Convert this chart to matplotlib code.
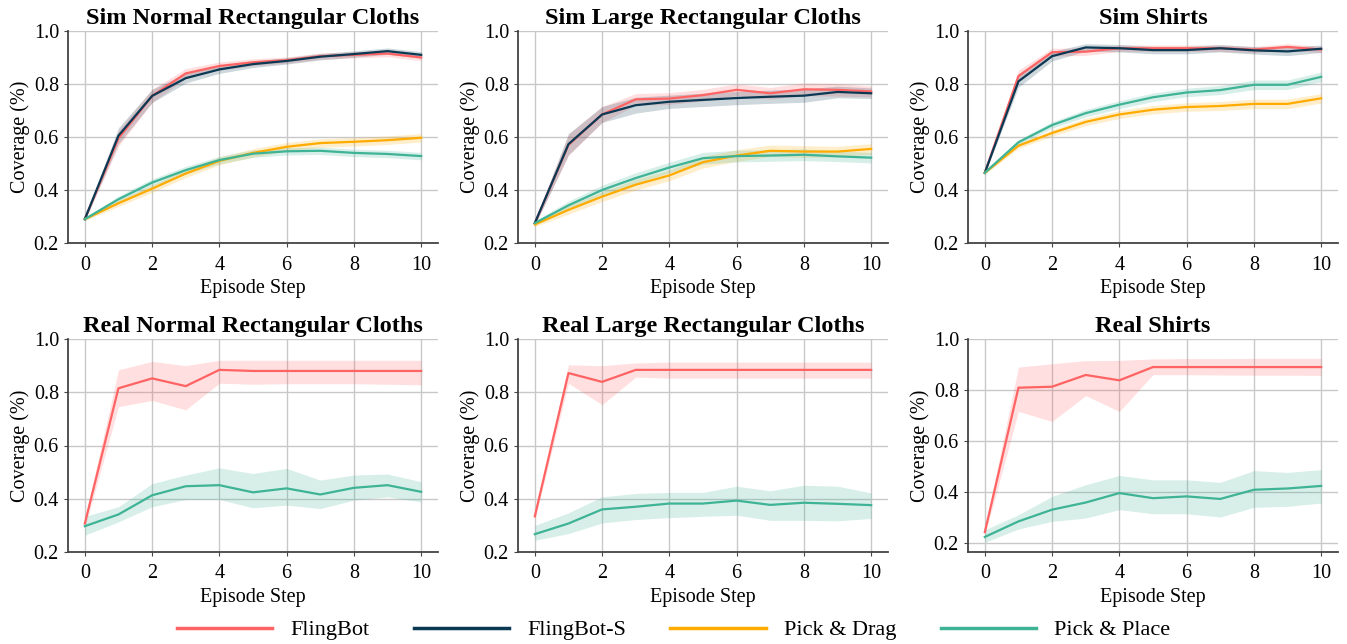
import numpy as np
import matplotlib
matplotlib.use("Agg")
import matplotlib.pyplot as plt
from matplotlib.lines import Line2D

plt.rcParams.update({"font.family": ["Liberation Serif", "DejaVu Serif"],
                     "font.size": 14})

steps = np.arange(11)

methods = ["FlingBot", "FlingBot-S", "Pick & Drag", "Pick & Place"]
colors = {"FlingBot": "#ff6363", "FlingBot-S": "#0b3954",
          "Pick & Drag": "#ffab00", "Pick & Place": "#3eb395"}

# ---- simulation: mean curves and band half-widths -------------------------
sim_normal_mean = {
    "FlingBot":     [0.29, 0.595, 0.755, 0.840, 0.868, 0.882, 0.890, 0.905, 0.910, 0.915, 0.900],
    "FlingBot-S":   [0.29, 0.605, 0.755, 0.822, 0.855, 0.875, 0.887, 0.903, 0.913, 0.924, 0.910],
    "Pick & Drag":  [0.29, 0.350, 0.405, 0.462, 0.510, 0.540, 0.563, 0.577, 0.582, 0.588, 0.597],
    "Pick & Place": [0.29, 0.365, 0.428, 0.475, 0.513, 0.537, 0.546, 0.548, 0.540, 0.536, 0.528],
}
sim_normal_err = {
    "FlingBot":     [0.005, 0.030, 0.025, 0.018, 0.015, 0.013, 0.012, 0.012, 0.012, 0.012, 0.012],
    "FlingBot-S":   [0.005, 0.030, 0.025, 0.018, 0.015, 0.013, 0.012, 0.012, 0.012, 0.012, 0.012],
    "Pick & Drag":  [0.005, 0.012, 0.014, 0.015, 0.015, 0.016, 0.016, 0.016, 0.016, 0.016, 0.016],
    "Pick & Place": [0.005, 0.012, 0.014, 0.014, 0.014, 0.014, 0.014, 0.014, 0.014, 0.014, 0.014],
}

sim_large_mean = {
    "FlingBot":     [0.275, 0.570, 0.685, 0.742, 0.745, 0.758, 0.778, 0.765, 0.780, 0.778, 0.772],
    "FlingBot-S":   [0.275, 0.573, 0.685, 0.720, 0.733, 0.740, 0.747, 0.752, 0.756, 0.770, 0.765],
    "Pick & Drag":  [0.270, 0.325, 0.375, 0.420, 0.455, 0.505, 0.530, 0.548, 0.545, 0.545, 0.555],
    "Pick & Place": [0.275, 0.342, 0.400, 0.445, 0.485, 0.520, 0.528, 0.530, 0.533, 0.527, 0.522],
}
sim_large_err = {
    "FlingBot":     [0.008, 0.040, 0.030, 0.022, 0.022, 0.022, 0.022, 0.022, 0.024, 0.024, 0.020],
    "FlingBot-S":   [0.008, 0.040, 0.030, 0.030, 0.025, 0.025, 0.025, 0.025, 0.025, 0.022, 0.020],
    "Pick & Drag":  [0.008, 0.016, 0.018, 0.020, 0.020, 0.022, 0.022, 0.022, 0.022, 0.020, 0.020],
    "Pick & Place": [0.008, 0.016, 0.018, 0.020, 0.020, 0.022, 0.022, 0.022, 0.022, 0.020, 0.020],
}

sim_shirts_mean = {
    "FlingBot":     [0.465, 0.830, 0.920, 0.922, 0.935, 0.935, 0.935, 0.935, 0.930, 0.940, 0.930],
    "FlingBot-S":   [0.465, 0.810, 0.905, 0.938, 0.935, 0.928, 0.928, 0.935, 0.927, 0.923, 0.933],
    "Pick & Drag":  [0.465, 0.567, 0.615, 0.657, 0.685, 0.703, 0.713, 0.717, 0.725, 0.725, 0.746],
    "Pick & Place": [0.465, 0.580, 0.645, 0.690, 0.722, 0.750, 0.768, 0.777, 0.797, 0.797, 0.827],
}
sim_shirts_err = {
    "FlingBot":     [0.005, 0.022, 0.015, 0.014, 0.012, 0.012, 0.012, 0.012, 0.012, 0.012, 0.012],
    "FlingBot-S":   [0.005, 0.022, 0.018, 0.014, 0.014, 0.014, 0.014, 0.014, 0.014, 0.016, 0.014],
    "Pick & Drag":  [0.005, 0.010, 0.012, 0.014, 0.015, 0.016, 0.016, 0.017, 0.018, 0.018, 0.018],
    "Pick & Place": [0.005, 0.010, 0.012, 0.014, 0.015, 0.016, 0.016, 0.017, 0.018, 0.018, 0.018],
}

# ---- real world: mean curves with lower / upper band -----------------------
real_normal = {
    "FlingBot": ([0.307, 0.815, 0.852, 0.823, 0.884, 0.880, 0.880, 0.880, 0.880, 0.880, 0.880],
                 [0.290, 0.746, 0.769, 0.734, 0.834, 0.830, 0.832, 0.832, 0.832, 0.830, 0.828],
                 [0.325, 0.884, 0.916, 0.900, 0.920, 0.920, 0.920, 0.920, 0.920, 0.920, 0.920]),
    "Pick & Place": ([0.297, 0.341, 0.413, 0.447, 0.451, 0.424, 0.439, 0.416, 0.441, 0.451, 0.426],
                     [0.263, 0.313, 0.370, 0.397, 0.397, 0.366, 0.376, 0.363, 0.395, 0.407, 0.388],
                     [0.334, 0.370, 0.457, 0.489, 0.516, 0.495, 0.514, 0.470, 0.489, 0.493, 0.464]),
}
real_large = {
    "FlingBot": ([0.334, 0.872, 0.839, 0.884, 0.884, 0.884, 0.884, 0.884, 0.884, 0.884, 0.884],
                 [0.320, 0.834, 0.753, 0.857, 0.853, 0.853, 0.853, 0.853, 0.853, 0.853, 0.853],
                 [0.350, 0.903, 0.900, 0.910, 0.913, 0.913, 0.913, 0.913, 0.913, 0.913, 0.913]),
    "Pick & Place": ([0.267, 0.307, 0.360, 0.370, 0.382, 0.382, 0.393, 0.377, 0.385, 0.381, 0.376],
                     [0.244, 0.269, 0.309, 0.322, 0.329, 0.334, 0.338, 0.319, 0.319, 0.317, 0.326],
                     [0.300, 0.347, 0.407, 0.420, 0.424, 0.424, 0.447, 0.430, 0.451, 0.447, 0.422]),
}
real_shirts = {
    "FlingBot": ([0.243, 0.809, 0.813, 0.859, 0.838, 0.890, 0.890, 0.890, 0.890, 0.890, 0.890],
                 [0.230, 0.716, 0.677, 0.778, 0.716, 0.860, 0.860, 0.859, 0.858, 0.858, 0.857],
                 [0.260, 0.890, 0.903, 0.915, 0.916, 0.922, 0.923, 0.923, 0.924, 0.924, 0.924]),
    "Pick & Place": ([0.224, 0.285, 0.331, 0.359, 0.396, 0.376, 0.383, 0.373, 0.409, 0.414, 0.424],
                     [0.203, 0.255, 0.285, 0.298, 0.331, 0.315, 0.315, 0.302, 0.340, 0.344, 0.357],
                     [0.252, 0.311, 0.383, 0.429, 0.465, 0.448, 0.448, 0.438, 0.484, 0.477, 0.488]),
}


def sim_bands(mean, err):
    out = {}
    for m in methods:
        mu, e = np.array(mean[m]), np.array(err[m])
        out[m] = (mu, mu - e, mu + e)
    return out


panels = [
    ("Sim Normal Rectangular Cloths", sim_bands(sim_normal_mean, sim_normal_err), 0.2),
    ("Sim Large Rectangular Cloths", sim_bands(sim_large_mean, sim_large_err), 0.2),
    ("Sim Shirts", sim_bands(sim_shirts_mean, sim_shirts_err), 0.2),
    ("Real Normal Rectangular Cloths", real_normal, 0.2),
    ("Real Large Rectangular Cloths", real_large, 0.2),
    ("Real Shirts", real_shirts, 0.165),
]

fig = plt.figure(figsize=(13.47, 6.44), dpi=100)
lefts = [68, 518, 968]
rows = [(31, 243), (339, 552)]
W, H = 1347.0, 644.0

for i, (title, data, ymin) in enumerate(panels):
    r, c = divmod(i, 3)
    top, bot = rows[r]
    ax = fig.add_axes([lefts[c] / W, 1 - bot / H, 370 / W, (bot - top) / H])
    for m in methods:
        if m not in data:
            continue
        mu, lo, hi = data[m]
        ax.fill_between(steps, lo, hi, color=colors[m], alpha=0.2, linewidth=0)
        ax.plot(steps, mu, color=colors[m], linewidth=1.6)
    ax.set_xlim(-0.5, 10.5)
    ax.set_ylim(ymin, 1.0)
    ax.set_xticks([0, 2, 4, 6, 8, 10])
    ax.set_yticks([0.2, 0.4, 0.6, 0.8, 1.0])
    ax.grid(True, color="#c8c8c8", linewidth=1.0)
    ax.set_axisbelow(True)
    for s in ("top", "right"):
        ax.spines[s].set_visible(False)
    for s in ("left", "bottom"):
        ax.spines[s].set_color("#444444")
        ax.spines[s].set_linewidth(1.3)
    ax.tick_params(axis="both", labelsize=14.5, length=3, color="#444444")
    ax.tick_params(axis="x", pad=6)
    ax.set_title(title, fontsize=17.5, fontweight="bold", pad=5)
    ax.set_xlabel("Episode Step", fontsize=14.5, labelpad=3)
    ax.set_ylabel("Coverage (%)", fontsize=14.5, labelpad=3)

handles = [Line2D([], [], color=colors[m], linewidth=2.5) for m in methods]
fig.legend(handles, methods, loc="center", bbox_to_anchor=(0.5, 1 - 630 / H),
           ncol=4, frameon=False, fontsize=16, handlelength=4.3,
           handletextpad=0.8, columnspacing=2.0)

fig.savefig("out.png", dpi=100)
